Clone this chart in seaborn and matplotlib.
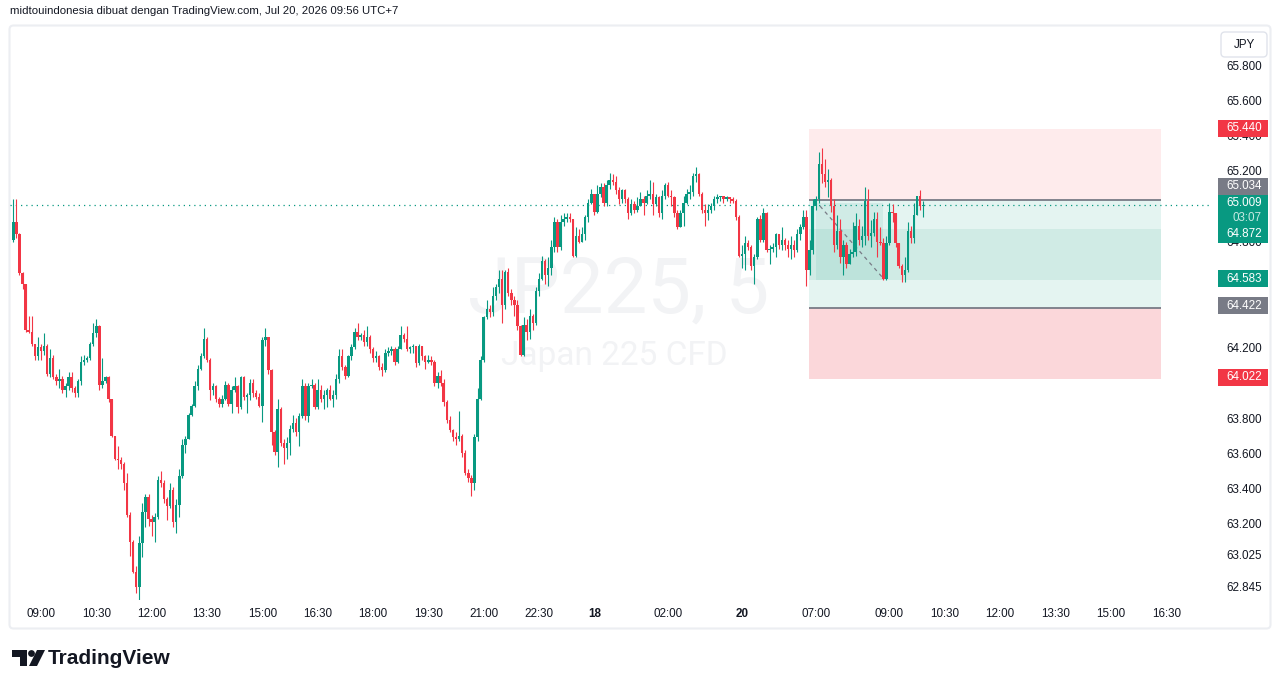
import pandas as pd
import seaborn as sns
import matplotlib.pyplot as plt
from matplotlib.patches import Rectangle, FancyBboxPatch, Polygon, Circle

# JP225 CFD, 5 minute candles (index 0 = 08:15)
first_open = 64.81
closes = [
    64.91, 64.84, 64.62, 64.56, 64.30, 64.29, 64.22, 64.15, 64.20, 64.18,
    64.21, 64.05, 64.14, 64.03, 64.01, 64.02, 63.96, 63.98, 64.03, 63.97,
    63.94, 64.01, 64.12, 64.13, 64.14, 64.22, 64.28, 64.32, 63.99, 64.01,
    64.03, 63.91, 63.70, 63.57, 63.56, 63.54, 63.43, 63.25, 63.10, 62.93,
    62.84, 63.09, 63.27, 63.35, 63.23, 63.21, 63.24, 63.45, 63.43, 63.34,
    63.30, 63.39, 63.21, 63.31, 63.47, 63.65, 63.68, 63.82, 63.87, 63.98,
    64.08, 64.15, 64.25, 64.13, 63.96, 63.98, 63.91, 63.88, 63.91, 63.99,
    63.88, 63.96, 63.98, 63.86, 64.03, 63.92, 63.93, 64.00, 63.94, 63.92,
    63.87, 64.24, 64.26, 64.07, 63.72, 63.61, 63.85, 63.66, 63.63, 63.66,
    63.74, 63.77, 63.72, 63.81, 63.98, 63.81, 63.98, 63.99, 63.86, 63.96,
    63.91, 63.93, 63.96, 63.91, 63.93, 64.02, 64.15, 64.09, 64.04, 64.15,
    64.20, 64.29, 64.26, 64.27, 64.23, 64.26, 64.19, 64.14, 64.15, 64.09,
    64.07, 64.17, 64.18, 64.19, 64.12, 64.19, 64.27, 64.25, 64.19, 64.20,
    64.21, 64.11, 64.21, 64.15, 64.12, 64.13, 64.12, 64.00, 64.04, 64.00,
    63.89, 63.79, 63.73, 63.69, 63.68, 63.70, 63.60, 63.49, 63.46, 63.43,
    63.69, 63.91, 64.13, 64.37, 64.42, 64.40, 64.49, 64.54, 64.59, 64.44,
    64.63, 64.51, 64.47, 64.44, 64.32, 64.16, 64.33, 64.29, 64.38, 64.34,
    64.52, 64.59, 64.69, 64.61, 64.65, 64.77, 64.91, 64.77, 64.91, 64.93,
    64.94, 64.93, 64.72, 64.83, 64.80, 64.84, 64.94, 65.02, 65.07, 64.97,
    65.07, 65.11, 65.02, 65.12, 65.15, 65.14, 65.09, 65.04, 65.09, 65.04,
    64.96, 65.01, 64.98, 65.00, 65.04, 65.02, 65.06, 65.07, 65.01, 65.05,
    64.96, 65.06, 65.12, 65.06, 65.05, 64.96, 64.88, 64.96, 65.02, 65.07,
    65.08, 65.17, 65.18, 65.07, 64.98, 64.96, 64.98, 65.00, 65.04, 65.05,
    65.06, 65.04, 65.05, 65.04, 65.03, 64.94, 64.72, 64.73, 64.79, 64.77,
    64.66, 64.71, 64.93, 64.81, 64.96, 64.75, 64.76, 64.77, 64.84, 64.78,
    64.81, 64.78, 64.76, 64.78, 64.75, 64.84, 64.88, 64.94, 64.64, 64.75,
    65.00, 65.04, 65.24, 65.18, 65.14, 65.15, 65.00, 64.78, 64.86, 64.71,
    64.78, 64.67, 64.73, 64.74, 64.89, 64.81, 64.83, 65.03, 64.83, 64.85,
    64.93, 64.80, 64.79, 64.59, 64.79, 64.97, 64.96, 64.79, 64.66, 64.61,
    64.64, 64.86, 64.82, 64.95, 65.06, 65.00, 65.009,
]
highs = [
    65.04, 65.04, 64.85, 64.63, 64.56, 64.38, 64.38, 64.22, 64.26, 64.22,
    64.28, 64.22, 64.19, 64.16, 64.05, 64.08, 64.04, 64.00, 64.06, 64.06,
    63.98, 64.02, 64.15, 64.16, 64.15, 64.23, 64.34, 64.36, 64.33, 64.14,
    64.04, 64.04, 63.91, 63.70, 63.64, 63.58, 63.55, 63.49, 63.27, 63.11,
    62.96, 63.13, 63.32, 63.37, 63.37, 63.25, 63.26, 63.47, 63.50, 63.45,
    63.35, 63.43, 63.41, 63.34, 63.51, 63.68, 63.70, 63.83, 63.88, 64.01,
    64.10, 64.17, 64.31, 64.26, 64.14, 64.00, 63.99, 63.92, 63.93, 64.01,
    64.00, 63.98, 64.03, 63.99, 64.04, 64.04, 63.94, 64.02, 64.02, 63.96,
    63.94, 64.26, 64.31, 64.26, 64.08, 63.73, 63.91, 63.86, 63.68, 63.69,
    63.76, 63.82, 63.80, 63.83, 64.02, 64.00, 64.00, 64.02, 64.00, 64.02,
    63.99, 63.96, 63.97, 63.99, 63.96, 64.05, 64.19, 64.19, 64.10, 64.16,
    64.22, 64.31, 64.34, 64.28, 64.30, 64.32, 64.27, 64.20, 64.18, 64.16,
    64.11, 64.19, 64.20, 64.21, 64.20, 64.21, 64.32, 64.28, 64.32, 64.21,
    64.22, 64.21, 64.22, 64.21, 64.16, 64.16, 64.15, 64.13, 64.06, 64.07,
    64.02, 63.90, 63.81, 63.74, 63.72, 63.84, 63.71, 63.62, 63.51, 63.48,
    63.71, 63.97, 64.15, 64.38, 64.47, 64.44, 64.54, 64.56, 64.64, 64.64,
    64.64, 64.65, 64.53, 64.49, 64.47, 64.33, 64.37, 64.36, 64.42, 64.39,
    64.54, 64.62, 64.72, 64.70, 64.71, 64.81, 64.94, 64.93, 64.95, 64.96,
    64.96, 64.96, 64.93, 64.88, 64.87, 64.88, 64.95, 65.04, 65.10, 65.06,
    65.12, 65.13, 65.13, 65.15, 65.19, 65.18, 65.17, 65.11, 65.10, 65.10,
    65.05, 65.04, 65.03, 65.05, 65.08, 65.06, 65.09, 65.15, 65.14, 65.07,
    65.06, 65.09, 65.13, 65.14, 65.09, 65.06, 64.98, 64.98, 65.06, 65.10,
    65.12, 65.19, 65.22, 65.19, 65.08, 65.01, 65.01, 65.02, 65.06, 65.07,
    65.06, 65.06, 65.06, 65.05, 65.05, 65.04, 64.95, 64.78, 64.83, 64.81,
    64.78, 64.73, 64.94, 64.95, 64.99, 64.97, 64.78, 64.79, 64.85, 64.84,
    64.88, 64.82, 64.81, 64.83, 64.81, 64.87, 64.90, 64.98, 64.98, 64.81,
    65.04, 65.06, 65.31, 65.33, 65.27, 65.21, 65.16, 65.04, 64.95, 64.93,
    64.81, 64.80, 64.76, 64.91, 64.96, 64.93, 64.89, 65.11, 65.10, 64.92,
    64.97, 64.97, 64.88, 64.82, 64.83, 65.02, 65.01, 64.96, 64.79, 64.67,
    64.71, 64.91, 64.89, 65.02, 65.06, 65.09, 65.03,
]
lows = [
    64.80, 64.82, 64.61, 64.53, 64.29, 64.28, 64.21, 64.13, 64.13, 64.13,
    64.16, 64.04, 64.03, 64.02, 63.99, 63.97, 63.94, 63.92, 63.96, 63.95,
    63.92, 63.92, 63.99, 64.10, 64.12, 64.13, 64.21, 64.26, 63.96, 63.97,
    64.00, 63.89, 63.69, 63.56, 63.51, 63.51, 63.39, 63.24, 63.02, 62.92,
    62.81, 62.77, 63.01, 63.18, 63.19, 63.13, 63.10, 63.23, 63.41, 63.32,
    63.22, 63.29, 63.18, 63.15, 63.24, 63.46, 63.60, 63.68, 63.81, 63.86,
    63.96, 64.07, 64.14, 64.12, 63.90, 63.93, 63.89, 63.86, 63.86, 63.90,
    63.87, 63.83, 63.95, 63.83, 63.85, 63.90, 63.83, 63.90, 63.92, 63.91,
    63.86, 63.78, 64.21, 64.05, 63.65, 63.59, 63.52, 63.64, 63.54, 63.57,
    63.59, 63.72, 63.70, 63.64, 63.80, 63.79, 63.78, 63.97, 63.85, 63.85,
    63.89, 63.85, 63.86, 63.90, 63.86, 63.91, 64.00, 64.07, 64.02, 64.03,
    64.13, 64.19, 64.24, 64.24, 64.21, 64.21, 64.17, 64.12, 64.12, 64.07,
    64.04, 64.06, 64.15, 64.16, 64.10, 64.11, 64.19, 64.23, 64.18, 64.17,
    64.17, 64.09, 64.10, 64.13, 64.08, 64.11, 64.10, 63.98, 63.97, 63.98,
    63.87, 63.77, 63.72, 63.67, 63.65, 63.67, 63.58, 63.48, 63.44, 63.36,
    63.39, 63.67, 63.90, 64.12, 64.36, 64.37, 64.38, 64.47, 64.51, 64.34,
    64.42, 64.49, 64.44, 64.38, 64.30, 64.15, 64.15, 64.24, 64.25, 64.30,
    64.33, 64.49, 64.58, 64.56, 64.55, 64.61, 64.74, 64.74, 64.75, 64.89,
    64.91, 64.91, 64.71, 64.71, 64.79, 64.80, 64.81, 64.91, 65.01, 64.95,
    64.96, 65.05, 65.00, 65.00, 65.10, 65.12, 65.07, 65.01, 65.02, 65.02,
    64.93, 64.95, 64.96, 64.97, 65.00, 64.95, 65.01, 65.04, 64.95, 65.00,
    64.94, 64.93, 65.04, 65.05, 65.00, 64.94, 64.87, 64.88, 64.89, 65.01,
    65.04, 65.06, 65.14, 65.06, 64.96, 64.89, 64.92, 64.96, 64.98, 65.02,
    65.03, 65.02, 65.03, 65.02, 65.02, 64.92, 64.71, 64.65, 64.64, 64.75,
    64.64, 64.56, 64.70, 64.80, 64.80, 64.74, 64.67, 64.74, 64.71, 64.76,
    64.75, 64.75, 64.71, 64.70, 64.71, 64.74, 64.81, 64.87, 64.55, 64.61,
    64.73, 64.98, 65.02, 65.13, 65.11, 65.05, 64.97, 64.74, 64.76, 64.68,
    64.61, 64.65, 64.68, 64.71, 64.72, 64.78, 64.77, 64.78, 64.81, 64.77,
    64.83, 64.71, 64.78, 64.58, 64.58, 64.78, 64.91, 64.77, 64.65, 64.57,
    64.57, 64.63, 64.79, 64.79, 64.95, 64.98, 64.94,
]

time_ticks = [9, 27, 45, 63, 81, 99, 117, 135, 153, 171, 189, 213, 237,
              261, 285, 303, 321, 339, 357, 375]
time_labels = ['09:00', '10:30', '12:00', '13:30', '15:00', '16:30', '18:00',
               '19:30', '21:00', '22:30', '18', '02:00', '20', '07:00',
               '09:00', '10:30', '12:00', '13:30', '15:00', '16:30']
price_ticks = [65.8, 65.6, 65.4, 65.2, 64.8, 64.2, 63.8, 63.6, 63.4,
               63.2, 63.025, 62.845]

# position tool levels
pos_top, pos_entry, pos_target, pos_bottom = 65.440, 65.034, 64.422, 64.022
band_hi, band_lo = 64.872, 64.583
last_price = 65.009

# price scale labels: text, centre, colour
scale_labels = [
    ('65.440', 65.443, '#f23645'),
    ('65.034', 65.114, '#787b86'),
    ('64.583', 64.590, '#089981'),
    ('64.422', 64.435, '#787b86'),
    ('64.022', 64.032, '#f23645'),
]

UP, DOWN = '#089981', '#f23645'
INK = '#131722'

df = pd.DataFrame({'close': closes, 'high': highs, 'low': lows})
df['open'] = [first_open] + closes[:-1]
df['high'] = df[['high', 'open', 'close']].max(axis=1)
df['low'] = df[['low', 'open', 'close']].min(axis=1)
df['up'] = df['close'] >= df['open']
df['color'] = df['up'].map({True: UP, False: DOWN})
df['body_lo'] = df[['open', 'close']].min(axis=1)
df['body_h'] = (df['close'] - df['open']).abs().clip(lower=0.006)

sns.set_theme(style='white')
plt.rcParams['font.family'] = ['Liberation Sans', 'DejaVu Sans']

W, H = 1281, 688
fig = plt.figure(figsize=(W / 100, H / 100), dpi=100)
fig.patch.set_facecolor('white')

# overlay in pixel coordinates for header / frame / logo
fa = fig.add_axes([0, 0, 1, 1], zorder=0)
fa.set_xlim(0, W)
fa.set_ylim(H, 0)
fa.axis('off')

fa.text(10, 11, 'midtouindonesia dibuat dengan TradingView.com, Jul 20, 2026 09:56 UTC+7',
        fontsize=8.2, color=INK, va='center', ha='left')
fa.add_patch(FancyBboxPatch((9.5, 25.5), 1261, 603, boxstyle='round,pad=0,rounding_size=4',
                            fc='none', ec='#eceef2', lw=1.5))
fa.add_patch(FancyBboxPatch((1221, 32), 46, 25, boxstyle='round,pad=0,rounding_size=4',
                            fc='white', ec='#e0e3eb', lw=1))
fa.text(1244, 45, 'JPY', fontsize=8.4, color=INK, ha='center', va='center')

# TradingView logo
fa.add_patch(Polygon([(12, 650), (27, 650), (27, 666), (20, 666), (20, 657), (12, 657)],
                     closed=True, fc=INK, ec='none'))
fa.add_patch(Circle((31.5, 653.5), 3.4, fc=INK, ec='none'))
fa.add_patch(Polygon([(37, 650), (45, 650), (37, 666), (29, 666)], closed=True, fc=INK, ec='none'))
fa.text(48, 658, 'TradingView', fontsize=15, fontweight='bold', color=INK, va='center', ha='left')

# main price pane
ax = fig.add_axes([10 / W, 88 / H, 1202 / W, 575 / H], zorder=1)
ax.patch.set_visible(False)
for s in ax.spines.values():
    s.set_visible(False)
ax.set_xlim(-1.07, 389.9)
ax.set_ylim(62.769, 66.027)

# watermark
ax.text(0.506, 0.500, 'JP225, 5', transform=ax.transAxes, ha='center', va='baseline',
        fontsize=56, color='#f2f3f5', family='Roboto', zorder=0)
ax.text(0.503, 0.409, 'Japan 225 CFD', transform=ax.transAxes, ha='center', va='baseline',
        fontsize=24, color='#f2f3f5', family='Roboto', zorder=0)

# position tool
x0, x1 = 258.8, 373.3
ax.add_patch(Rectangle((x0, pos_entry), x1 - x0, pos_top - pos_entry, fc='#feebec', ec='none', zorder=1))
ax.add_patch(Rectangle((x0, pos_target), x1 - x0, pos_entry - pos_target, fc='#e4f4f1', ec='none', zorder=1))
ax.add_patch(Rectangle((x0, band_lo), x1 - x0, band_hi - band_lo, fc='#d0ebe5', ec='none', zorder=1.1))
ax.add_patch(Rectangle((261, band_lo), 22, 65.02 - band_lo, fc='#089981', alpha=0.09, ec='none', zorder=1.2))
ax.add_patch(Rectangle((x0, pos_bottom), x1 - x0, pos_target - pos_bottom, fc='#fbd7da', ec='none', zorder=1))
ax.hlines([pos_entry, pos_target], x0, x1, color='#787b86', lw=1.3, zorder=1.5)
ax.plot([262.4, 282.6], [65.001, 64.599], color='#787b86', lw=0.9, dashes=(3, 3), zorder=1.5)

# last price line
ax.axhline(last_price, color=UP, lw=0.9, dashes=(1, 3.2), zorder=2)

# candles
ax.vlines(df.index, df['low'], df['high'], colors=df['color'], lw=0.8, zorder=3)
ax.bar(df.index, df['body_h'], bottom=df['body_lo'], width=0.8, color=df['color'],
       linewidth=0, zorder=4)

# axes ticks
ax.set_xticks(time_ticks)
ax.set_xticklabels(time_labels)
for t in ax.get_xticklabels():
    if t.get_text() in ('18', '20'):
        t.set_fontweight('bold')
ax.tick_params(axis='x', length=0, pad=5.5, labelsize=8.4, labelcolor=INK)
ax.yaxis.tick_right()
ax.set_yticks(price_ticks)
ax.set_yticklabels([f'{p:.3f}' for p in price_ticks])
ax.tick_params(axis='y', length=0, pad=10.5, labelsize=8.4, labelcolor=INK)
ax.grid(False)

# price scale badges
tr = ax.get_yaxis_transform()
bx, bw, bh = 1.00458, 50 / 1202, 17 / 176.5
tx = 1.0412
for txt, yc, col in scale_labels:
    ax.add_patch(Rectangle((bx, yc - bh / 2), bw, bh, transform=tr, fc=col, ec='none',
                           clip_on=False, zorder=6))
    ax.text(tx, yc, txt, transform=tr, ha='right', va='center', fontsize=8.4,
            color='white', clip_on=False, zorder=7)
# current price badge with countdown
ax.add_patch(Rectangle((bx, 64.792), bw, 65.063 - 64.792, transform=tr, fc=UP, ec='none',
                       clip_on=False, zorder=6))
ax.text(tx, 65.018, f'{last_price:.3f}', transform=tr, ha='right', va='center', fontsize=8.4,
        color='white', clip_on=False, zorder=7)
ax.text(tx, 64.933, '03:07', transform=tr, ha='right', va='center', fontsize=8.4,
        color='#c6e9e2', clip_on=False, zorder=7)
ax.text(tx, 64.842, f'{band_hi:.3f}', transform=tr, ha='right', va='center', fontsize=8.4,
        color='white', clip_on=False, zorder=7)

fig.savefig('out.png', dpi=100)
